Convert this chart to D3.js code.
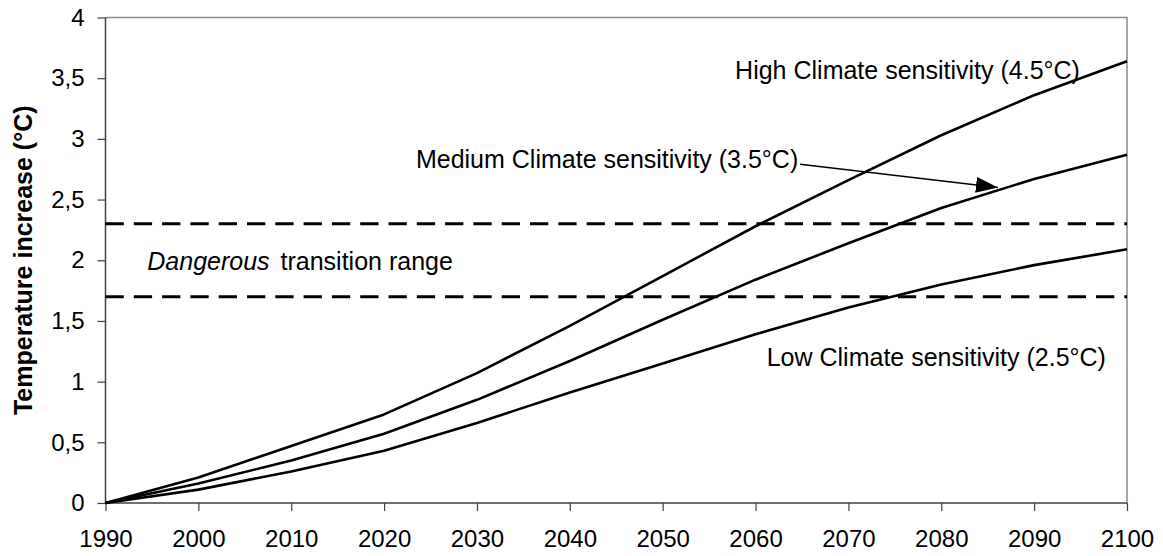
<!DOCTYPE html>
<html>
<head>
<meta charset="utf-8">
<script src="https://cdn.jsdelivr.net/npm/d3@7"></script>
<style>
  body { margin: 0; background: #fff; }
  svg { display: block; font-family: "Liberation Sans", Arial, sans-serif; }
</style>
</head>
<body>
<div id="output"></div>
<script>
// years on the x axis
const years = [1990, 2000, 2010, 2020, 2030, 2040, 2050, 2060, 2070, 2080, 2090, 2100];
// temperature increase (°C) per climate sensitivity
const highSens = [0, 0.21, 0.47, 0.73, 1.07, 1.46, 1.87, 2.28, 2.66, 3.03, 3.36, 3.64];
const mediumSens = [0, 0.16, 0.35, 0.57, 0.85, 1.17, 1.51, 1.84, 2.14, 2.43, 2.67, 2.87];
const lowSens = [0, 0.11, 0.26, 0.43, 0.66, 0.91, 1.15, 1.39, 1.61, 1.80, 1.96, 2.09];
// dangerous transition range bounds
const dangerRange = [1.7, 2.3];
const yTicks = [0, 0.5, 1, 1.5, 2, 2.5, 3, 3.5, 4];

const width = 1163, height = 556;
const margin = { top: 17.5, right: 36, bottom: 53, left: 105.5 };

const svg = d3.select("#output").append("svg")
  .attr("width", width)
  .attr("height", height);

const x = d3.scaleLinear().domain([1990, 2100]).range([margin.left, width - margin.right]);
const y = d3.scaleLinear().domain([0, 4]).range([height - margin.bottom, margin.top]);

// plot frame (top and right, light grey)
svg.append("path")
  .attr("d", `M${x(1990)},${y(4)}H${x(2100)}V${y(0)}`)
  .attr("fill", "none")
  .attr("stroke", "#8a8a8a")
  .attr("stroke-width", 1.5);

// y axis
const yAxis = svg.append("g")
  .attr("transform", `translate(${x(1990)},0)`)
  .call(d3.axisLeft(y).tickValues(yTicks).tickSize(8).tickPadding(13)
    .tickFormat(d => String(d).replace(".", ",")));

// x axis
const xAxis = svg.append("g")
  .attr("transform", `translate(0,${y(0)})`)
  .call(d3.axisBottom(x).tickValues(years).tickSize(8).tickPadding(19)
    .tickFormat(d3.format("d")));

[yAxis, xAxis].forEach(g => {
  g.select(".domain").attr("stroke", "#404040").attr("stroke-width", 1.5);
  g.selectAll(".tick line").attr("stroke", "#404040").attr("stroke-width", 1.2);
  g.selectAll(".tick text")
    .attr("fill", "#000")
    .attr("font-size", 24)
    .attr("font-family", "Liberation Sans, Arial, sans-serif");
});
yAxis.select(".domain").attr("d", `M0,${y(4)}V${y(0)}`);
xAxis.select(".domain").attr("d", `M${x(1990)},0H${x(2100)}`);

// y axis title
svg.append("text")
  .attr("transform", `translate(32,${(y(0) + y(4)) / 2}) rotate(-90)`)
  .attr("text-anchor", "middle")
  .attr("font-size", 25)
  .attr("font-weight", "bold")
  .text("Temperature increase (°C)");

// dashed range lines
svg.append("g")
  .selectAll("line")
  .data(dangerRange)
  .join("line")
  .attr("x1", x(1990))
  .attr("x2", x(2100))
  .attr("y1", d => y(d))
  .attr("y2", d => y(d))
  .attr("stroke", "#000")
  .attr("stroke-width", 3)
  .attr("stroke-dasharray", "18.3 10");

// sensitivity lines
const line = d3.line()
  .x((d, i) => x(years[i]))
  .y(d => y(d));

svg.append("g")
  .attr("fill", "none")
  .attr("stroke", "#000")
  .attr("stroke-width", 2.6)
  .attr("stroke-linejoin", "round")
  .selectAll("path")
  .data([highSens, mediumSens, lowSens])
  .join("path")
  .attr("d", line);

// labels
const labels = svg.append("g").attr("font-size", 25).attr("fill", "#000");

labels.append("text")
  .attr("x", x(2057.8)).attr("y", y(3.49))
  .text("High Climate sensitivity (4.5°C)");

labels.append("text")
  .attr("x", x(2064.6)).attr("y", y(2.758))
  .attr("text-anchor", "end")
  .text("Medium Climate sensitivity (3.5°C)");

labels.append("text")
  .attr("x", x(2061.2)).attr("y", y(1.128))
  .text("Low Climate sensitivity (2.5°C)");

const danger = labels.append("text")
  .attr("x", x(1994.5)).attr("y", y(1.919));
danger.append("tspan").attr("font-style", "italic").text("Dangerous");
danger.append("tspan").attr("dx", 4).text(" transition range");

// arrow from medium label to medium line
svg.append("defs").append("marker")
  .attr("id", "arrowhead")
  .attr("viewBox", "0 0 22 16")
  .attr("refX", 22)
  .attr("refY", 8)
  .attr("markerWidth", 22)
  .attr("markerHeight", 16)
  .attr("markerUnits", "userSpaceOnUse")
  .attr("orient", "auto")
  .append("path")
  .attr("d", "M0,0L22,8L0,16Z")
  .attr("fill", "#000");

svg.append("line")
  .attr("x1", x(2064.8)).attr("y1", y(2.79))
  .attr("x2", x(2086.1)).attr("y2", y(2.60))
  .attr("stroke", "#000")
  .attr("stroke-width", 1.5)
  .attr("marker-end", "url(#arrowhead)");
</script>
</body>
</html>
